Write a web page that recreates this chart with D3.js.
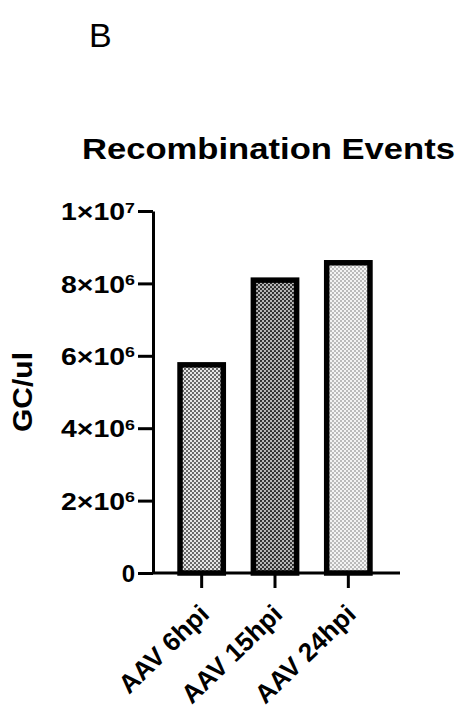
<!DOCTYPE html>
<html>
<head>
<meta charset="utf-8">
<script src="https://cdn.jsdelivr.net/npm/d3@7"></script>
<style>
  html, body { margin: 0; padding: 0; background: #fff; }
  svg { display: block; }
  text { font-family: "Liberation Sans", Arial, sans-serif; fill: #000; }
</style>
</head>
<body>
<script>
const categories = ["AAV 6hpi", "AAV 15hpi", "AAV 24hpi"];
const values = [5.75e6, 8.09e6, 8.57e6];
const yTicks = [0, 2e6, 4e6, 6e6, 8e6, 1e7];
const yTickMantissa = ["0", "2", "4", "6", "8", "1"];
const yTickExponent = ["", "6", "6", "6", "6", "7"];
const fills = ["medium", "dark", "light"];

const W = 469, H = 717;
const svg = d3.select("body").append("svg").attr("width", W).attr("height", H);

// dotted halftone patterns
const defs = svg.append("defs");
const patSpec = {
  medium: { bg: "#e6e6e6", dot: "#333", r: 0.95 },
  dark:   { bg: "#b8b8b8", dot: "#222", r: 1.1 },
  light:  { bg: "#f4f4f4", dot: "#666", r: 0.75 }
};
Object.entries(patSpec).forEach(([k, s]) => {
  const p = defs.append("pattern").attr("id", "pat-" + k)
    .attr("patternUnits", "userSpaceOnUse").attr("width", 4).attr("height", 4);
  p.append("rect").attr("width", 4).attr("height", 4).attr("fill", s.bg);
  p.append("circle").attr("cx", 1).attr("cy", 1).attr("r", s.r).attr("fill", s.dot);
  p.append("circle").attr("cx", 3).attr("cy", 3).attr("r", s.r).attr("fill", s.dot);
});

const axisX0 = 153;
const y = d3.scaleLinear().domain([0, 1e7]).range([573, 211]);
const x = d3.scaleBand().domain(categories).range([165, 385])
  .paddingInner(0.41).paddingOuter(0.205);

// panel letter
svg.append("text").attr("x", 89).attr("y", 47)
  .style("font-size", "34px").text("B");

// title
svg.append("text").attr("x", 82).attr("y", 159)
  .attr("textLength", 373).attr("lengthAdjust", "spacingAndGlyphs")
  .style("font-size", "30px").style("font-weight", "bold")
  .text("Recombination Events");

// y axis label
svg.append("text")
  .attr("transform", "translate(32,392) rotate(-90)")
  .attr("text-anchor", "middle")
  .attr("textLength", 80).attr("lengthAdjust", "spacingAndGlyphs")
  .style("font-size", "28px").style("font-weight", "bold")
  .text("GC/ul");

// bars
svg.append("g").selectAll("rect").data(values).join("rect")
  .attr("x", (d, i) => x(categories[i]))
  .attr("y", d => y(d))
  .attr("width", x.bandwidth())
  .attr("height", d => y(0) - y(d))
  .attr("fill", (d, i) => "url(#pat-" + fills[i] + ")")
  .attr("stroke", "#000").attr("stroke-width", 5.5);

// y axis
const yAxis = svg.append("g").attr("transform", `translate(${axisX0},0)`)
  .call(d3.axisLeft(y).tickValues(yTicks).tickSize(15).tickSizeOuter(0).tickFormat(""));
yAxis.selectAll("path, line").attr("stroke", "#000").attr("stroke-width", 3);
yAxis.selectAll(".tick").each(function(d, i) {
  const t = d3.select(this).append("text")
    .attr("x", -18).attr("dy", "0.36em")
    .attr("text-anchor", "end").attr("fill", "#000")
    .style("font-size", "24px").style("font-weight", "bold")
    .style("font-family", "'Liberation Sans', Arial, sans-serif");
  if (yTickExponent[i] === "") {
    t.text(yTickMantissa[i]);
  } else {
    t.attr("textLength", 74).attr("lengthAdjust", "spacingAndGlyphs");
    t.append("tspan").text(yTickMantissa[i] + "\u00d710");
    t.append("tspan").attr("dy", "-0.5em").style("font-size", "15px").text(yTickExponent[i]);
  }
});

// x axis
const xAxis = svg.append("g").attr("transform", `translate(0,${y(0)})`)
  .call(d3.axisBottom(x).tickSize(15).tickSizeOuter(0).tickFormat(""));
xAxis.select(".domain").attr("d", `M${axisX0},0H400`);
xAxis.selectAll("path, line").attr("stroke", "#000").attr("stroke-width", 3);
xAxis.selectAll(".tick").each(function(d) {
  d3.select(this).append("text")
    .attr("transform", "translate(9,43) rotate(-44)")
    .attr("text-anchor", "end").attr("fill", "#000")
    .style("font-size", "26px").style("font-weight", "bold")
    .style("font-family", "'Liberation Sans', Arial, sans-serif")
    .text(d);
});
</script>
</body>
</html>
